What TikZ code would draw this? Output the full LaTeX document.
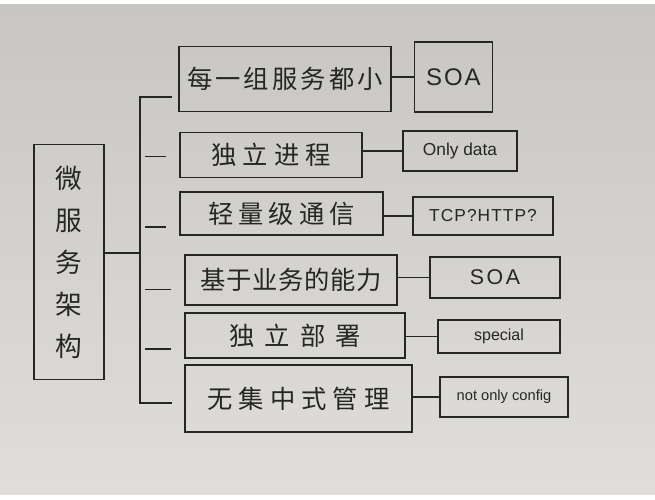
\documentclass[tikz,border=0pt]{standalone}
\usepackage{fontspec}
\setmainfont{Liberation Sans}
\newfontfamily\cjk{Noto Sans CJK SC}
\usepackage{xcolor}
\usepackage{tikz}
\usetikzlibrary{calc}

\definecolor{ink}{RGB}{38,38,38}
\definecolor{paperlo}{RGB}{224,222,219}
\definecolor{paperhi}{RGB}{200,198,194}

\tikzset{
  box/.style={draw=ink, line width=1.1pt, inner sep=0.75pt, text=ink},
  hanzi/.style={font=\cjk\fontsize{19}{22}\selectfont},
  latin/.style={font=\fontsize{#1}{#1}\selectfont},
  wire/.style={draw=ink, line width=1.1pt}
}

\begin{document}
\begin{tikzpicture}[x=0.75pt,y=0.75pt,yscale=-1,xscale=1]
\useasboundingbox (0,0) rectangle (655,499);
%paper
\fill[white] (0,0) rectangle (655,499);
\shade[top color=paperhi, bottom color=paperlo] (0,5) rectangle (655,494);

%Main block
\node [box, minimum width=52.5pt, minimum height=176pt, align=center,
  font=\cjk\fontsize{20}{31.5}\selectfont] (micro) at (69,262)
  {微\\服\\务\\架\\构};

%Left column
\node [box, hanzi, minimum width=159pt, minimum height=48.75pt] (small) at (285,79)
  {\addfontfeatures{LetterSpace=12}每一组服务都小};
\node [box, hanzi, minimum width=136.5pt, minimum height=33.75pt] (proc) at (271,155)
  {\addfontfeatures{LetterSpace=24}独立进程};
\node [box, hanzi, minimum width=152.25pt, minimum height=32.25pt] (comm) at (281.5,213.5)
  {\addfontfeatures{LetterSpace=20}轻量级通信};
\node [box, hanzi, minimum width=159pt, minimum height=37.5pt] (biz) at (291,280)
  {\addfontfeatures{LetterSpace=3}基于业务的能力};
\node [box, hanzi, minimum width=165pt, minimum height=33.75pt] (deploy) at (295,335.5)
  {\addfontfeatures{LetterSpace=40}独立部署};
\node [box, hanzi, minimum width=170.25pt, minimum height=50.25pt] (mgmt) at (298.5,398.5)
  {\addfontfeatures{LetterSpace=24}无集中式管理};

%Right column
\node [box, latin=18, minimum width=58.5pt, minimum height=52.5pt] (soa) at (453.5,77)
  {\addfontfeatures{LetterSpace=8}SOA};
\node [box, latin=13, minimum width=85.5pt, minimum height=30pt] (data) at (460,151)
  {Only data};
\node [box, latin=13, minimum width=105pt, minimum height=28.5pt] (tcp) at (483,216)
  {\addfontfeatures{LetterSpace=6}TCP?HTTP?};
\node [box, latin=16, minimum width=97.5pt, minimum height=30.75pt] (soab) at (495,277.5)
  {\addfontfeatures{LetterSpace=12}SOA};
\node [box, latin=12, minimum width=91.5pt, minimum height=24.75pt] (spec) at (499,336.5)
  {special};
\node [box, latin=11, minimum width=96pt, minimum height=30pt] (conf) at (504,397)
  {not only config};

%Bracket
\coordinate (brktop) at (140,97);
\coordinate (brkbot) at (140,403);
\coordinate (brkmid) at (140,253);
\draw [wire] ($(brktop)+(32,0)$) -- (brktop) -- (brkbot) -- ($(brkbot)+(32,0)$);
\draw [wire] (micro.east |- brkmid) -- (brkmid);
\foreach \n/\dy in {proc/1,comm/10,biz/7,deploy/10}
  \draw [wire, shorten >=10pt, shorten <=4pt]
    ([yshift=\dy]brktop |- \n.west) -- ([yshift=\dy]\n.west);

%Links
\foreach \a/\b in {small/soa,proc/data,comm/tcp,biz/soab,deploy/spec,mgmt/conf}
  \draw [wire] (\a.east |- \b.west) -- (\b.west);

\end{tikzpicture}
\end{document}
